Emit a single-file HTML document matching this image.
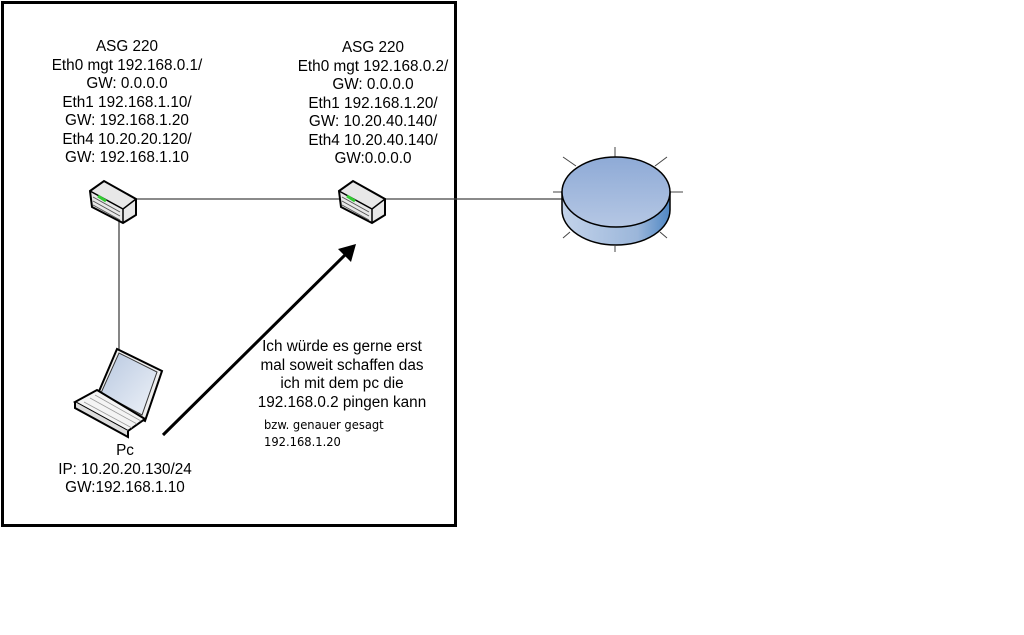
<!DOCTYPE html>
<html><head><style>
body{margin:0;width:1024px;height:635px;background:#fff;position:relative;overflow:hidden;font-family:"Liberation Sans",Arial,sans-serif;color:#000}
.t{position:absolute;text-align:center;font-size:15.3px;line-height:18.5px;white-space:nowrap}
</style></head><body>
<div style="position:absolute;left:1px;top:1px;width:450px;height:520px;border:3px solid #000"></div>
<svg width="1024" height="635" style="position:absolute;left:0;top:0">
<defs>
<linearGradient id="side" x1="0" x2="1"><stop offset="0" stop-color="#c3d3ea"/><stop offset="0.7" stop-color="#9bb6da"/><stop offset="1" stop-color="#4f87c4"/></linearGradient>
<linearGradient id="top" x1="0" y1="0" x2="0" y2="1"><stop offset="0" stop-color="#8eaad6"/><stop offset="1" stop-color="#b5c7e4"/></linearGradient>
<linearGradient id="scr" x1="0" y1="0" x2="1" y2="1"><stop offset="0" stop-color="#b8c8e0"/><stop offset="1" stop-color="#eef2f8"/></linearGradient>
<g id="rt">
<path d="M0,10 L14,0 L46,18 L46,34 L33,42 L2,26 Z" fill="#e8e8e8" stroke="#000" stroke-width="2"/>
<path d="M0,10 L33,28 L46,18" fill="none" stroke="#000" stroke-width="1.5"/>
<path d="M33,28 L33,42" stroke="#000" stroke-width="1.5"/>
<path d="M3,16 L30,31 M3,20 L30,35 M3,24 L30,39" stroke="#555" stroke-width="1"/>
<path d="M8,15 L16,20" stroke="#3c3" stroke-width="3"/>
</g>
</defs>
<line x1="137" y1="199" x2="342" y2="199" stroke="#444" stroke-width="1.3"/>
<line x1="385" y1="199" x2="562" y2="199" stroke="#444" stroke-width="1.3"/>
<line x1="119" y1="215" x2="119" y2="350" stroke="#444" stroke-width="1.3"/>
<use href="#rt" x="90" y="181"/>
<use href="#rt" x="339" y="181"/>
<g stroke="#444" stroke-width="1">
<line x1="615" y1="147" x2="615" y2="157"/><line x1="615" y1="246" x2="615" y2="252"/>
<line x1="553" y1="192" x2="562" y2="192"/><line x1="670" y1="192" x2="683" y2="192"/>
<line x1="563" y1="157" x2="576" y2="166"/><line x1="667" y1="157" x2="655" y2="166"/>
<line x1="563" y1="238" x2="570" y2="232"/><line x1="667" y1="238" x2="660" y2="232"/>
</g>
<path d="M562,192 L562,210 A54,35 0 0 0 670,210 L670,192 Z" fill="url(#side)" stroke="#000" stroke-width="1.5"/>
<ellipse cx="616" cy="192" rx="54" ry="35" fill="url(#top)" stroke="#000" stroke-width="1.5"/>
<path d="M97,396 L117,349 L162,371 L145,421 Z" fill="#eee" stroke="#000" stroke-width="2"/>
<path d="M101,393 L119,353 L157,372 L142,415 Z" fill="url(#scr)" stroke="#333" stroke-width="1"/>
<path d="M75,402 L97,390 L145,419 L128,431 Z" fill="#f4f4f4" stroke="#000" stroke-width="2"/>
<path d="M75,402 L75,408 L128,437 L128,431" fill="#ddd" stroke="#000" stroke-width="2"/>
<g stroke="#999" stroke-width="0.8"><line x1="84" y1="402" x2="132" y2="428"/><line x1="90" y1="398" x2="137" y2="424"/><line x1="95" y1="395" x2="141" y2="421"/></g>
<line x1="163" y1="435" x2="348" y2="252" stroke="#000" stroke-width="3"/>
<polygon points="356,244 351,262 338,249" fill="#000"/>
</svg>
<div class="t" style="left:27px;width:200px;top:38px">ASG 220<br>Eth0 mgt 192.168.0.1/<br>GW: 0.0.0.0<br>Eth1 192.168.1.10/<br>GW: 192.168.1.20<br>Eth4 10.20.20.120/<br>GW: 192.168.1.10</div>
<div class="t" style="left:273px;width:200px;top:39px">ASG 220<br>Eth0 mgt 192.168.0.2/<br>GW: 0.0.0.0<br>Eth1 192.168.1.20/<br>GW: 10.20.40.140/<br>Eth4 10.20.40.140/<br>GW:0.0.0.0</div>
<div class="t" style="left:25px;width:200px;top:442px">Pc<br>IP: 10.20.20.130/24<br>GW:192.168.1.10</div>
<div class="t" style="left:242px;width:200px;top:338px">Ich würde es gerne erst<br>mal soweit schaffen das<br>ich mit dem pc die<br>192.168.0.2 pingen kann</div>
<div style="position:absolute;left:264px;top:417px;font-size:12.8px;line-height:17px;font-family:'DejaVu Sans Condensed','Liberation Sans',sans-serif">bzw. genauer gesagt<br>192.168.1.20</div>
</body></html>
